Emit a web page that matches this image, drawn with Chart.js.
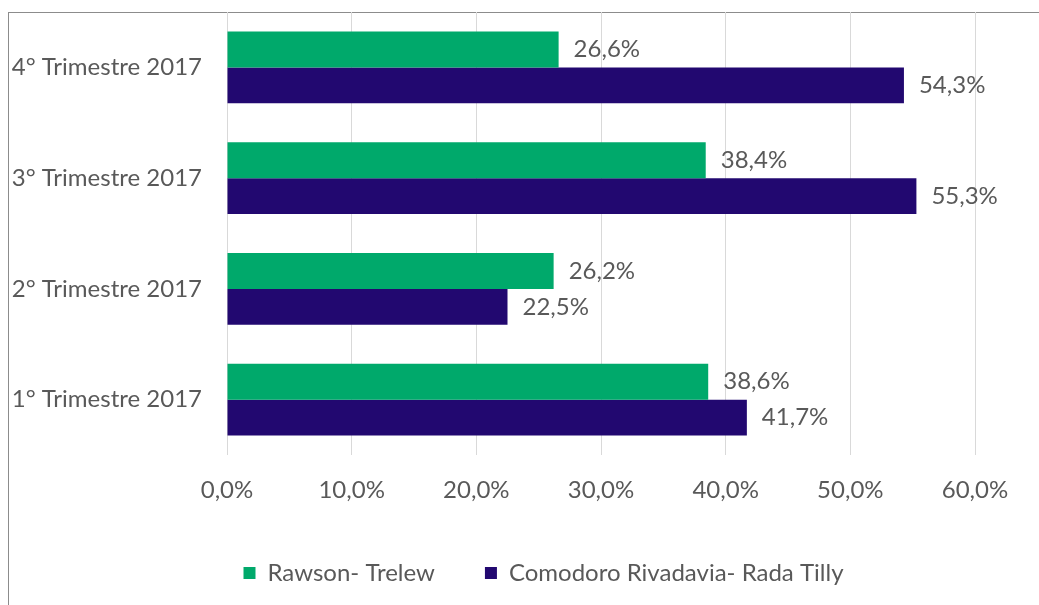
<!DOCTYPE html>
<html>
<head>
<meta charset="utf-8">
<script src="https://cdn.jsdelivr.net/npm/chart.js@4"></script>
<style>
  html, body { margin: 0; padding: 0; background: #fff; overflow: hidden; }
  #marco { position: absolute; left: 8px; top: 12px; width: 1200px; height: 800px;
           border-top: 1px solid #8c8c8c; border-left: 1px solid #8c8c8c; }
  #wrap { position: absolute; left: 0; top: 0; width: 1087px; height: 605px; }
</style>
</head>
<body>
<div id="marco"></div>
<div id="wrap"><canvas id="grafica"></canvas></div>
<script>
// datos
const etiquetas = ['4° Trimestre 2017', '3° Trimestre 2017', '2° Trimestre 2017', '1° Trimestre 2017'];
const rawsonTrelew = [26.6, 38.4, 26.2, 38.6];
const comodoroRadaTilly = [54.3, 55.3, 22.5, 41.7];
const ticksEje = [0, 10, 20, 30, 40, 50, 60];

const gris = '#595959';
const fuente = "Lato, 'Open Sans', sans-serif";
const tamFuente = 24;

function formato(v) {
  return v.toFixed(1).replace('.', ',') + '%';
}

// etiquetas de valor al final de cada barra
const etiquetasValor = {
  id: 'etiquetasValor',
  afterDatasetsDraw(chart) {
    const ctx = chart.ctx;
    ctx.save();
    ctx.fillStyle = gris;
    ctx.font = tamFuente + 'px ' + fuente;
    ctx.textAlign = 'left';
    ctx.textBaseline = 'middle';
    chart.data.datasets.forEach((ds, i) => {
      chart.getDatasetMeta(i).data.forEach((barra, j) => {
        ctx.fillText(formato(ds.data[j]), barra.x + 15, barra.y);
      });
    });
    ctx.restore();
  }
};

new Chart(document.getElementById('grafica'), {
  type: 'bar',
  data: {
    labels: etiquetas,
    datasets: [{
      label: 'Rawson- Trelew',
      data: rawsonTrelew,
      backgroundColor: '#00a96b',
      categoryPercentage: 0.65,
      barPercentage: 1.0
    }, {
      label: 'Comodoro Rivadavia- Rada Tilly',
      data: comodoroRadaTilly,
      backgroundColor: '#220870',
      categoryPercentage: 0.65,
      barPercentage: 1.0
    }]
  },
  options: {
    indexAxis: 'y',
    responsive: true,
    maintainAspectRatio: false,
    animation: false,
    layout: { padding: { left: 0, right: 0, top: 12, bottom: 10 } },
    scales: {
      x: {
        min: 0,
        max: 60,
        afterBuildTicks: (eje) => { eje.ticks = ticksEje.map(v => ({ value: v })); },
        afterFit: (eje) => { eje.height = 56; eje.paddingLeft = 0; eje.paddingRight = 0; },
        grid: { color: '#d9d9d9', drawTicks: false },
        border: { display: false },
        ticks: {
          padding: 21,
          color: gris,
          font: { family: fuente, size: tamFuente },
          callback: (v) => formato(v)
        }
      },
      y: {
        afterFit: (eje) => { eje.width = 227; eje.paddingTop = 0; eje.paddingBottom = 0; },
        grid: { display: false, drawTicks: false },
        border: { display: false },
        ticks: {
          padding: 25,
          color: gris,
          font: { family: fuente, size: tamFuente }
        }
      },
      // eje vacio a la derecha para dejar margen
      margen: {
        type: 'category',
        position: 'right',
        afterFit: (eje) => { eje.width = 112; eje.paddingTop = 0; eje.paddingBottom = 0; },
        grid: { display: false, drawTicks: false },
        border: { display: false },
        ticks: { display: false }
      }
    },
    plugins: {
      legend: {
        position: 'bottom',
        labels: {
          boxWidth: 12,
          boxHeight: 12,
          padding: 50,
          color: gris,
          font: { family: fuente, size: tamFuente }
        }
      },
      tooltip: { enabled: false }
    }
  },
  plugins: [etiquetasValor]
});
</script>
</body>
</html>
